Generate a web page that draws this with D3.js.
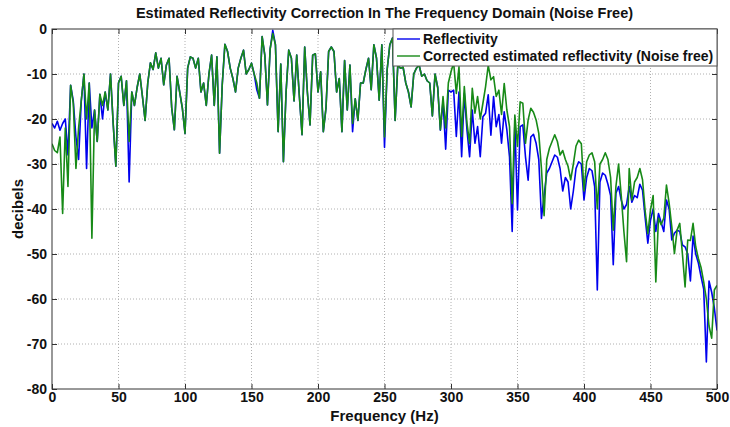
<!DOCTYPE html>
<html>
<head>
<meta charset="utf-8">
<script src="https://cdn.jsdelivr.net/npm/d3@7"></script>
<style>
  body { margin: 0; background: #fff; }
  svg { display: block; }
  .narrow { font-family: "Liberation Sans Narrow", "Arial Narrow", "Liberation Sans", sans-serif; font-weight: bold; }
</style>
</head>
<body>
<svg id="chart" width="730" height="427"></svg>
<script>
// frequency grid (Hz)
const freqHz = [
  0,2,4,6,8,10,12,14,16,18,20,22,24,26,28,30,32,34,36,38,40,42,44,46,48,50,
  52,54,56,58,60,62,64,66,68,70,72,74,76,78,80,82,84,86,88,90,92,94,96,98,100,
  102,104,106,108,110,112,114,116,118,120,122,124,126,128,130,132,134,136,138,140,
  142,144,146,148,150,152,154,156,158,160,162,164,166,168,170,172,174,176,178,180,
  182,184,186,188,190,192,194,196,198,200,202,204,206,208,210,212,214,216,218,220,
  222,224,226,228,230,232,234,236,238,240,242,244,246,248,250,252,254,256,258,260,
  262,264,266,268,270,272,274,276,278,280,282,284,286,288,290,292,294,296,298,300,
  302,304,306,308,310,312,314,316,318,320,322,324,326,328,330,332,334,336,338,340,
  342,344,346,348,350,352,354,356,358,360,362,364,366,368,370,372,374,376,378,380,
  382,384,386,388,390,392,394,396,398,400,402,404,406,408,410,412,414,416,418,420,
  422,424,426,428,430,432,434,436,438,440,442,444,446,448,450,452,454,456,458,460,
  462,464,466,468,470,472,474,476,478,480,482,484,486,488,490,492,494,496,498,500
];

// Reflectivity (dB)
const reflectivity = [
  -21,-22,-20.5,-22.5,-21,-20,-28,-12.5,-16,-24,-29,-16,-10,-31,-12,-22,-18,-25,-14.5,-20,
  -14,-18,-10,-21,-30.5,-12,-10.5,-17,-11.5,-34,-14,-17,-13,-10,-15,-20.3,-12,-7.5,-9,-5.3,
  -8.7,-6.5,-12.4,-8,-6.5,-17.5,-22.4,-10.5,-14,-17.6,-23.2,
  -8.7,-6.2,-6.5,-8.7,-6.5,-14,-12,-17,-10,-5.8,-17,-6.2,-27.6,-12.4,-3.4,-5,-8.7,-11,-14,-8.7,
  -6.5,-4.7,-10,-9,-7.6,-10,-13.5,-15.4,-1.7,-5.8,-16.9,-4.5,-0.3,-3.5,-22.8,-7.8,-29.5,-14,-4.7,-6.5,
  -16,-5.8,-15,-23.5,-4,-14,-21.3,-5.8,-5.5,-14,
  -9.5,-22.8,-17.6,-5,-4,-5,-14,-11,-22.8,-7,-18,-8,-22.8,-15.5,-20.3,-12,-12,-9,-6.5,-13.5,
  -3.5,-6.5,-15.8,-3.5,-26.3,-9,-3.5,-2,-20.3,-8,-8.7,-8.5,-12,-14,-17.3,-10,-8.7,-8,-10.5,-10,
  -11.5,-12,-19.3,-10,-13,-22.5,-16,-26.7,-13.6,-14,
  -13.6,-23.9,-14,-28.4,-14.3,-22.4,-28.4,-18,-25.4,-21.7,-28.4,-19.5,-18.7,-14.6,-23.6,-15,-21.7,-19,-25.4,-18.4,
  -22.4,-28.4,-45,-21,-40.2,-21.7,-21.3,-28.4,-33.6,-24,-23.4,-25.4,-29,-42.1,-37,-32,-31,-29.5,-28,-28.5,
  -31,-36,-33,-34,-40,-36,-31,-29.5,-30,-38,
  -33,-31,-31.5,-35,-58,-34,-32,-32.5,-34.5,-37,-52.4,-36.5,-35,-38,-40,-39,-35,-38.5,-37,-37.5,
  -34.5,-35.8,-42,-47.6,-42.5,-40,-45,-41,-43,-45,-38,-40,-46.9,-45.4,-44.7,-45,-48,-48.4,-50,-56,
  -46,-50,-52,-55,-57.8,-74,-56,-58.5,-62,-67
];

// Corrected estimated reflectivity, noise free (dB)
const corrected = [
  -25.5,-27,-27.5,-24,-41,-22,-35,-12.5,-16.5,-31,-22,-16,-10,-20,-12,-46.5,-18,-25,-14.5,-17,
  -14,-18,-10,-21,-30.5,-12,-10.5,-17,-11.5,-25,-14,-17,-13,-10,-15,-20.3,-12,-7.5,-9,-5.3,
  -8.7,-6.5,-12.4,-8,-6.5,-17.5,-22.4,-10.5,-14,-17.6,-23.2,
  -8.7,-6.2,-6.5,-8.7,-6.5,-14,-12,-17,-10,-5.8,-17,-6.2,-27.6,-12.4,-3.4,-5,-8.7,-11,-14,-8.7,
  -6.5,-4.7,-10,-9,-7.6,-10,-12,-15.4,-1.7,-5.8,-16.9,-4.5,-1,-3.5,-22.8,-7.8,-29.5,-14,-4.7,-6.5,
  -16,-5.8,-15,-23.5,-4,-14,-21.3,-5.8,-5.5,-14,
  -9.5,-22.8,-17.6,-5,-4,-5,-14,-11,-22.8,-7,-18,-8,-21,-15.5,-20.3,-12,-12,-9,-6.5,-13.5,
  -3.5,-6.5,-15.8,-3.5,-24,-9,-3.5,-2,-20.3,-8,-8.7,-8.5,-12,-14,-17.3,-10,-8.7,-8,-10.5,-10,
  -11.5,-12,-19.3,-10,-13,-22.4,-15,-22,-12,-9.5,
  -7.5,-14.3,-8.4,-23.9,-12.8,-20.9,-25.4,-13.2,-18.7,-15,-20,-16.5,-12.8,-8.1,-11.3,-10.6,-15,-13.6,-19,-12.1,
  -18,-21.7,-38.8,-19.1,-26.1,-16.2,-16.5,-25.4,-20.2,-17.6,-18.5,-20.2,-23.2,-31,-41.5,-29,-26.5,-25,-23.5,-25,
  -28,-27,-29,-30.5,-33.5,-30,-26,-24.7,-25.5,-36,
  -29.5,-28,-27.5,-29.5,-40,-30,-29,-27.5,-29,-33,-44.7,-35,-30,-37,-45,-51.7,-31,-38,-34,-33,
  -31,-33.5,-40.5,-45.5,-40.2,-37,-56.2,-42,-43.5,-42,-34.7,-38.7,-43.9,-49.9,-44.7,-43.2,-50,-57.3,-46.9,-47,
  -43.2,-48.4,-51,-53,-56.2,-60,-66,-68.7,-58,-57
];

const xTicks = [0, 50, 100, 150, 200, 250, 300, 350, 400, 450, 500];
const yTicks = [0, -10, -20, -30, -40, -50, -60, -70, -80];
const seriesNames = ["Reflectivity", "Corrected estimated reflectivity (Noise free)"];
const seriesColors = ["#0000ee", "#178a17"];

const margin = {top: 29, right: 13, bottom: 38, left: 52};
const width = 730 - margin.left - margin.right;
const height = 427 - margin.top - margin.bottom;

const svg = d3.select("#chart");
const g = svg.append("g").attr("transform", `translate(${margin.left},${margin.top})`);

const x = d3.scaleLinear().domain([0, 500]).range([0, width]);
const y = d3.scaleLinear().domain([-80, 0]).range([height, 0]);

// dotted grid
g.append("g")
  .selectAll("line")
  .data(xTicks.slice(1, -1))
  .join("line")
  .attr("x1", d => x(d)).attr("x2", d => x(d))
  .attr("y1", 0).attr("y2", height)
  .attr("stroke", "#b0b0b0").attr("stroke-width", 1).attr("stroke-dasharray", "1,2");
g.append("g")
  .selectAll("line")
  .data(yTicks.slice(1, -1))
  .join("line")
  .attr("x1", 0).attr("x2", width)
  .attr("y1", d => y(d)).attr("y2", d => y(d))
  .attr("stroke", "#b0b0b0").attr("stroke-width", 1).attr("stroke-dasharray", "1,2");

// the two curves
const line = vals => d3.line()
  .x((d, i) => x(freqHz[i]))
  .y(d => y(d))(vals);

g.append("defs").append("clipPath").attr("id", "plotclip")
  .append("rect").attr("width", width).attr("height", height);

const curves = g.append("g").attr("clip-path", "url(#plotclip)");
[reflectivity, corrected].forEach((vals, k) => {
  curves.append("path")
    .attr("d", line(vals))
    .attr("fill", "none")
    .attr("stroke", seriesColors[k])
    .attr("stroke-width", 1.6)
    .attr("stroke-linejoin", "round");
});

// axes, ticks pointing inward like matlab
const fmt = d => String(d);
const xAxis = g.append("g").attr("transform", `translate(0,${height})`)
  .call(d3.axisBottom(x).tickValues(xTicks).tickFormat(fmt).tickSizeInner(-5).tickSizeOuter(0).tickPadding(3));
const yAxis = g.append("g")
  .call(d3.axisLeft(y).tickValues(yTicks).tickFormat(fmt).tickSizeInner(-5).tickSizeOuter(0).tickPadding(5));
g.append("g")
  .call(d3.axisTop(x).tickValues(xTicks).tickFormat("").tickSizeInner(-5).tickSizeOuter(0));
g.append("g").attr("transform", `translate(${width},0)`)
  .call(d3.axisRight(y).tickValues(yTicks).tickFormat("").tickSizeInner(-5).tickSizeOuter(0));

g.selectAll(".domain").remove();
g.selectAll(".tick line").attr("stroke", "#333");
[xAxis, yAxis].forEach(a => a.selectAll("text")
  .attr("class", "narrow").attr("font-size", 14).attr("fill", "#111"));

// box
g.append("rect")
  .attr("width", width).attr("height", height)
  .attr("fill", "none").attr("stroke", "#333").attr("stroke-width", 1);

// legend
const lg = g.append("g").attr("transform", `translate(${width - 324},0)`);
lg.append("rect").attr("width", 324).attr("height", 37)
  .attr("fill", "#fff").attr("stroke", "#555").attr("stroke-width", 1);
seriesNames.forEach((name, k) => {
  const yy = 10 + k * 17;
  lg.append("line").attr("x1", 4).attr("x2", 27).attr("y1", yy).attr("y2", yy)
    .attr("stroke", seriesColors[k]).attr("stroke-width", 1.4);
  lg.append("text").attr("x", 30).attr("y", yy + 5)
    .attr("font-family", "Liberation Sans, Arial, sans-serif")
    .attr("font-weight", "bold").attr("font-size", 14).attr("fill", "#111")
    .text(name);
});

// titles
svg.append("text").attr("class", "narrow")
  .attr("x", margin.left + width / 2).attr("y", 18)
  .attr("text-anchor", "middle").attr("font-size", 14.5).attr("fill", "#111")
  .text("Estimated Reflectivity Correction In The Frequency Domain (Noise Free)");
svg.append("text").attr("class", "narrow")
  .attr("x", margin.left + width / 2).attr("y", 421)
  .attr("text-anchor", "middle").attr("font-size", 15).attr("fill", "#111")
  .text("Frequency (Hz)");
svg.append("text").attr("class", "narrow")
  .attr("transform", `translate(23,${margin.top + height / 2}) rotate(-90)`)
  .attr("text-anchor", "middle").attr("font-size", 15).attr("fill", "#111")
  .text("decibels");
</script>
</body>
</html>
